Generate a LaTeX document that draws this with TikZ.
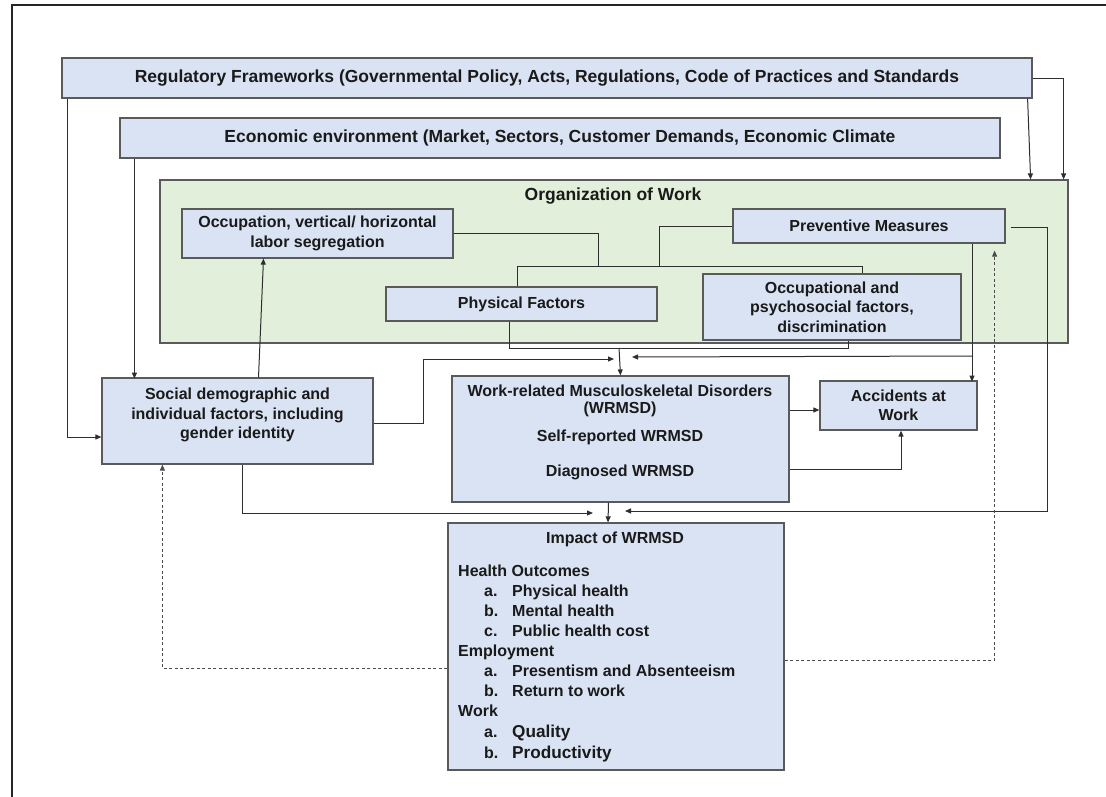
\documentclass[tikz,border=0pt]{standalone}
\usepackage{fontspec}
\setmainfont{Liberation Sans}
\usetikzlibrary{arrows.meta}
\definecolor{boxblue}{HTML}{DAE3F3}
\definecolor{boxgreen}{HTML}{E2EFDA}
\definecolor{edgegray}{HTML}{5A5A5A}
\definecolor{linegray}{HTML}{2E2E2E}
\definecolor{txtcol}{HTML}{1A1A1A}
\begin{document}
\begin{tikzpicture}[x=1pt,y=-1pt,
  txt/.style={font=\bfseries\fontsize{16}{19.5}\selectfont, align=center, inner sep=0pt, text=txtcol},
  bigtxt/.style={font=\bfseries\fontsize{17.5}{20}\selectfont},
  bx/.style={txt, draw=edgegray, fill=boxblue, line width=1.2pt},
  gbx/.style={draw=edgegray, fill=boxgreen, line width=1.2pt, inner sep=0pt},
  ln/.style={draw=linegray, line width=1pt},
  arr/.style={ln, -{Triangle[length=6pt,width=5pt]}},
  dasharr/.style={draw=black!70, line width=1pt, dash pattern=on 3pt off 2.5pt, -{Triangle[length=6pt,width=5pt]}},
  item/.style={txt, anchor=base west, align=left}
]
\useasboundingbox (0,0) rectangle (1106,796);
\fill[white] (0,0) rectangle (1106,796);
\draw[line width=2pt, draw=black!85] (12,810) -- (12,5) -- (1120,5);

% boxes
\node[bx, bigtxt, minimum width=970pt, minimum height=40pt] (reg) at (547,78) {Regulatory Frameworks (Governmental Policy, Acts, Regulations, Code of Practices and Standards};
\node[bx, bigtxt, minimum width=880pt, minimum height=40pt] (econ) at (560,138) {Economic environment (Market, Sectors, Customer Demands, Economic Climate};
\node[gbx, minimum width=908pt, minimum height=163pt] (org) at (614,261.5) {};
\node[txt, bigtxt] (orgt) at (613,196) {Organization of Work};
\node[bx, minimum width=271pt, minimum height=49pt] (occ) at (317.5,233.5) {Occupation, vertical/ horizontal\\labor segregation};
\node[bx, minimum width=272pt, minimum height=34pt] (prev) at (869,226) {Preventive Measures};
\node[bx, minimum width=271pt, minimum height=34pt] (phys) at (521.5,304) {Physical Factors};
\node[bx, minimum width=258pt, minimum height=66pt] (psy) at (832,307) {Occupational and\\psychosocial factors,\\discrimination};
\node[bx, minimum width=271pt, minimum height=86pt] (social) at (237.5,421) {};
\node[txt] (socialt) at (237.5,415) {Social demographic and\\individual factors, including\\gender identity};
\node[bx, minimum width=337pt, minimum height=126pt] (wrmsd) at (620.5,439) {};
\node[txt, font=\bfseries\fontsize{16}{17}\selectfont] (wrmsdt) at (620,401) {Work-related Musculoskeletal Disorders\\(WRMSD)};
\node[txt] (selfr) at (620,437) {Self-reported WRMSD};
\node[txt] (diag) at (620,472) {Diagnosed WRMSD};
\node[bx, minimum width=157pt, minimum height=49pt] (acc) at (898.5,405.5) {Accidents at\\Work};
\node[bx, minimum width=336pt, minimum height=247pt] (impact) at (616,646.5) {};
\node[txt] (impt) at (615,539) {Impact of WRMSD};
\node[item] (h0) at (458,576) {Health Outcomes};
\node[item] (h1) at (484,596) {\makebox[28pt][l]{a.}Physical health};
\node[item] (h2) at (484,616) {\makebox[28pt][l]{b.}Mental health};
\node[item] (h3) at (484,636) {\makebox[28pt][l]{c.}Public health cost};
\node[item] (e0) at (458,656) {Employment};
\node[item] (e1) at (484,676) {\makebox[28pt][l]{a.}Presentism and Absenteeism};
\node[item] (e2) at (484,696) {\makebox[28pt][l]{b.}Return to work};
\node[item] (w0) at (458,716) {Work};
\node[item, font=\bfseries\fontsize{17.2}{20}\selectfont] (w1) at (484,737) {\makebox[28pt][l]{\fontsize{16}{19}\selectfont a.}Quality};
\node[item, font=\bfseries\fontsize{17.2}{20}\selectfont] (w2) at (484,758) {\makebox[28pt][l]{\fontsize{16}{19}\selectfont b.}Productivity};

% coordinates for free ends
\coordinate (jw) at (619,348);
\coordinate (wl) at (614,359);
\coordinate (wr) at (632,357);
\coordinate (br) at (972,356);
\coordinate (il) at (593,513);
\coordinate (ir) at (625,511);

% connectors
\draw[arr] ([xshift=6pt]reg.south west) |- ([yshift=-16pt]social.west);
\draw[arr] ([xshift=15pt]econ.south west) -- ++(0,220);
\draw[arr] (reg.east) -| ([xshift=-5pt]org.north east);
\draw[arr] ([xshift=-5pt]reg.south east) -- ([xshift=-38pt]org.north east);

\draw[ln] (occ.east) -| (598,267);
\draw[ln] (prev.west) -| (659,267);
\draw[ln] ([xshift=-4.5pt]phys.north) -- ++(0,-20) -| ([xshift=30pt]psy.north);
\draw[ln] ([xshift=-12.5pt]phys.south) -- ++(0,27) -| ([xshift=16pt]psy.south);
\draw[arr] (jw) -- (wrmsd.north);

\draw[arr] ([xshift=21pt]social.north) -- ([xshift=-54pt]occ.south);
\draw[arr] ([yshift=-2pt]social.east) -- ++(50,0) |- (wl);
\draw[arr] ([xshift=103pt]prev.south) -- ++(0,138);
\draw[arr] (br) -- (wr);
\draw[arr] ([yshift=29pt]wrmsd.east) -- ([yshift=-4.5pt]acc.west);
\draw[arr] ([yshift=-30pt]wrmsd.east) -| ([xshift=2.5pt]acc.south);
\draw[arr] ([xshift=-12pt]wrmsd.south) -- ([xshift=-8pt]impact.north);
\draw[arr] ([xshift=4.5pt]social.south) |- (il);
\draw[arr] ([xshift=5pt,yshift=-1pt]prev.east) -- ++(37,0) |- (ir);

\draw[dasharr] ([yshift=-21.5pt]impact.west) -| ([xshift=61pt]social.south west);
\draw[dasharr] ([yshift=-13.5pt]impact.east) -| ([xshift=-11pt,yshift=-7pt]prev.south east);
\end{tikzpicture}
\end{document}
